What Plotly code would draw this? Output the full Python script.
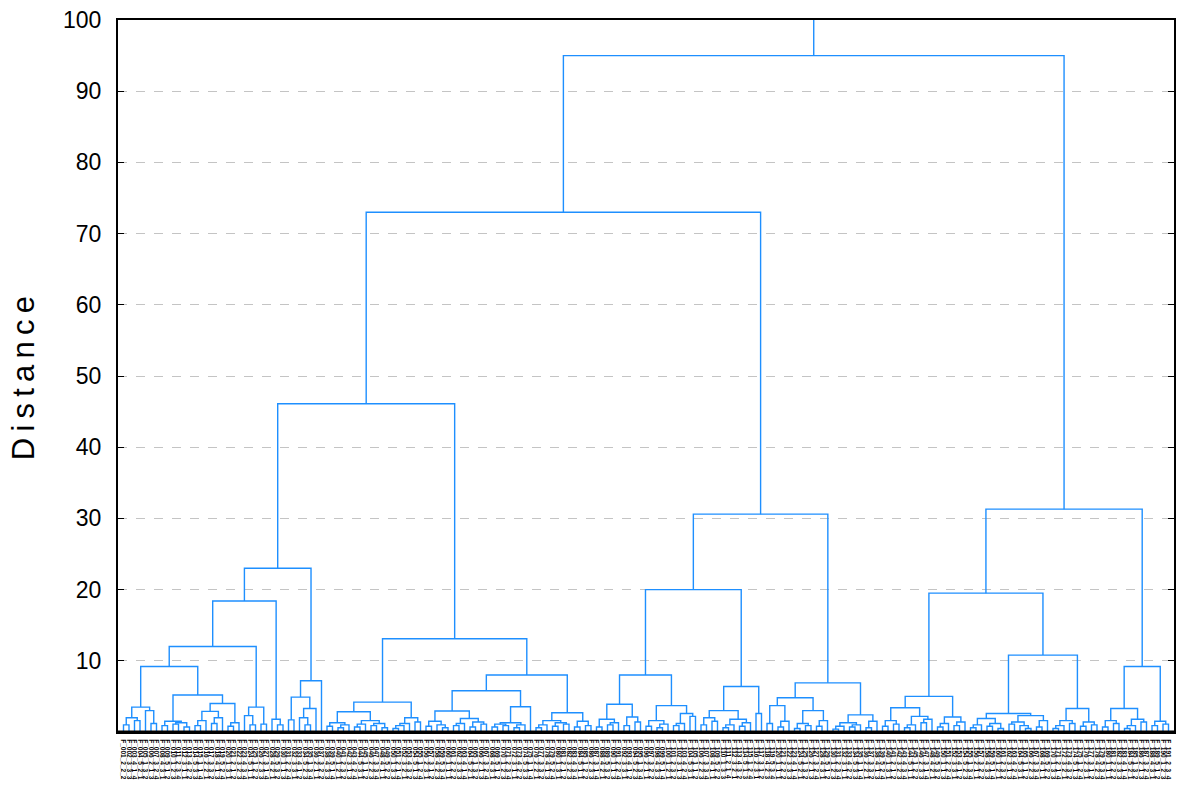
import re
import plotly.graph_objects as go

# ---------------------------------------------------------------------------
# Tree description: "(left,right)h" is a merge at height h, "x" is one object.
# Low-level groups are typed as strings; upper merges are joined with j().
# ---------------------------------------------------------------------------

def j(h, a, b):
    return f"({a},{b}){h}"

# cluster A
a1a_left = "(((x,x)1.0,(x,x)1.6)2.0,(x,(x,x)1.2)3.0)3.5"
a1a_right = "(((x,x)0.9,((x,x)1.1,(x,x)0.7)1.3)1.5,((((x,x)0.9,x)1.6,((x,x)1.2,x)2.0)2.9,((x,x)0.8,x)1.3)4.0)5.2"
a1a_b = "((x,(x,x)1.0)2.3,(x,x)1.1)3.5"
a1b = "(x,(x,x)1.0)1.8"
a2 = "(((x,x)1.7,((x,(x,x)1.0)2.0,x)3.3)4.9,x)7.2"

# cluster B
b1l = "(((x,x)0.8,((x,x)0.6,x)1.0)1.3,(((x,x)0.7,x)1.1,((x,x)0.9,(x,x)0.6)1.2)1.6)2.85"
b1r = "((((x,x)0.5,x)0.9,x)1.2,(x,x)1.4)2.0"
b2ll = "(((x,x)0.8,(x,(x,x)0.6)1.0)1.5,(((x,x)0.9,x)1.2,((x,x)0.7,(x,x)1.1)1.4)1.9)2.95"
b2lr = "((((x,x)0.7,(x,x)0.9)1.1,((x,x)0.6,x)1.0)1.3,x)3.55"
b2r = "((((x,x)0.6,x)1.0,((x,x)0.8,(x,x)1.1)1.3)1.6,((x,x)0.7,(x,x)0.9)1.5)2.7"

# cluster C
c_ll = "(((x,x)0.7,((x,x)1.0,x)1.3)1.8,((x,x)0.9,(x,x)1.4)2.1)3.9"
c_lr = "(((x,x)0.8,((x,x)0.6,x)1.1)1.6,(((x,x)0.9,x)1.2,(x,x)2.2)2.6)3.7"
c_rl = "(((x,x)1.0,(x,x)1.5)2.0,(((x,x)0.6,x)1.0,((x,x)0.8,x)1.3)1.8)3.0"
c_rr = "(x,x)2.6"

# cluster D
d_ll = "((x,x)1.2,((x,x)0.7,x)1.5)3.7"
d_lr = "(((x,x)0.5,(x,x)0.9)1.2,((x,x)0.8,x)1.6)3.0"
d_r = "((((x,x)0.4,x)0.8,((x,x)0.7,x)1.0)1.3,((x,x)0.6,x)1.5)2.4"

# cluster E / F
e_ll = "(((x,x)0.8,(x,x)1.1)1.6,(((x,x)0.6,x)1.0,((x,x)1.3,x)1.8)2.2)3.4"
e_lr = "(((x,x)0.7,x)1.2,((x,x)0.9,x)1.4)2.1"
e_rl = "((((x,x)0.6,x)1.0,((x,x)0.8,(x,x)0.5)1.2)1.9,(((x,x)1.1,(x,(x,x)0.5)0.9)1.4,((x,x)0.7,x)1.6)2.3)2.6"
e_rr = "((((x,x)0.5,x)0.9,(x,x)1.2)1.6,((x,x)0.8,(x,x)1.0)1.4)3.3"
f_l = "(((x,x)0.7,(x,x)1.2)1.6,(((x,x)0.5,x)0.9,(x,x)1.4)1.8)3.3"
f_r = "((x,x)0.9,(x,x)1.1)1.5"

cluster_a = j(23.0, j(18.4, j(12.0, j(9.2, a1a_left, a1a_right), a1a_b), a1b), a2)
cluster_b = j(13.1, j(4.2, b1l, b1r), j(8.0, j(5.8, b2ll, b2lr), b2r))
cluster_c = j(20.0, j(8.0, c_ll, c_lr), j(6.4, c_rl, c_rr))
cluster_d = j(6.9, j(4.8, d_ll, d_lr), d_r)
cluster_r = j(31.3, j(19.5, j(5.0, e_ll, e_lr), j(10.8, e_rl, e_rr)), j(9.2, f_l, f_r))

TREE = j(95.0, j(73.0, j(46.1, cluster_a, cluster_b), j(30.6, cluster_c, cluster_d)), cluster_r)
TOP = 100.0

Y_TICKS = [10, 20, 30, 40, 50, 60, 70, 80, 90, 100]


def parse(s):
    pos = 0

    def node():
        nonlocal pos
        if s[pos] == "x":
            pos += 1
            return None
        pos += 1  # "("
        left = node()
        pos += 1  # ","
        right = node()
        pos += 1  # ")"
        m = re.match(r"[0-9.]+", s[pos:])
        pos += len(m.group())
        return (float(m.group()), left, right)

    return node()


root = parse(TREE)

xs, ys = [], []
counter = [0]


def layout(n):
    """Return (x, height) of node n and append its link segments."""
    if n is None:
        x = counter[0]
        counter[0] += 1
        return x, 0.0
    h, left, right = n
    xl, hl = layout(left)
    xr, hr = layout(right)
    xs.extend([xl, xl, xr, xr, None])
    ys.extend([hl, h, h, hr, None])
    return (xl + xr) / 2, h


x_root, h_root = layout(root)
xs.extend([x_root, x_root, None])
ys.extend([h_root, TOP, None])
n_leaves = counter[0]

LEAF_LABELS = [f"F_{k:03d}_{(k % 5) + 1}_{(k % 3) + 1}_{(k % 4) + 1}" for k in range(1, n_leaves + 1)]

fig = go.Figure()
fig.add_trace(go.Scatter(
    x=xs, y=ys, mode="lines",
    line=dict(color="#1e8fff", width=1.4),
    hoverinfo="skip", showlegend=False,
))

fig.update_layout(
    width=1179, height=798,
    margin=dict(l=118, r=3, t=20, b=66),
    paper_bgcolor="white", plot_bgcolor="white",
    font=dict(family="Liberation Sans, Arial, sans-serif", color="black"),
    xaxis=dict(
        range=[-1, n_leaves], showgrid=False, zeroline=False,
        showline=True, linecolor="black", linewidth=2, mirror=True,
        tickmode="array", tickvals=list(range(n_leaves)), ticktext=LEAF_LABELS,
        tickangle=90, tickfont=dict(size=6.5, color="black", weight="bold"),
        ticks="", ticklabelstandoff=4,
    ),
    yaxis=dict(
        range=[0, 100], tickmode="array", tickvals=Y_TICKS,
        ticktext=[str(v) for v in Y_TICKS],
        tickfont=dict(size=23, color="black"),
        showgrid=True, gridcolor="#c4c4c4", griddash="dash", gridwidth=1,
        zeroline=False, showline=True, linecolor="black", linewidth=2,
        mirror="ticks", ticks="inside", ticklen=6, tickcolor="black",
        ticklabelstandoff=10,
    ),
)

# heavier baseline under the leaves
fig.add_shape(type="line", xref="paper", yref="paper", x0=0, x1=1, y0=0, y1=0,
              line=dict(color="black", width=3))

fig.add_annotation(
    text="D\u2009i\u2009s\u2009t\u2009a\u2009n\u2009c\u2009e",
    xref="paper", yref="paper", x=(23 - 118) / 1058, y=(732 - 378) / 712,
    textangle=-90, showarrow=False, font=dict(size=31, color="black"),
    xanchor="center", yanchor="middle",
)

fig.write_html("out.html")
